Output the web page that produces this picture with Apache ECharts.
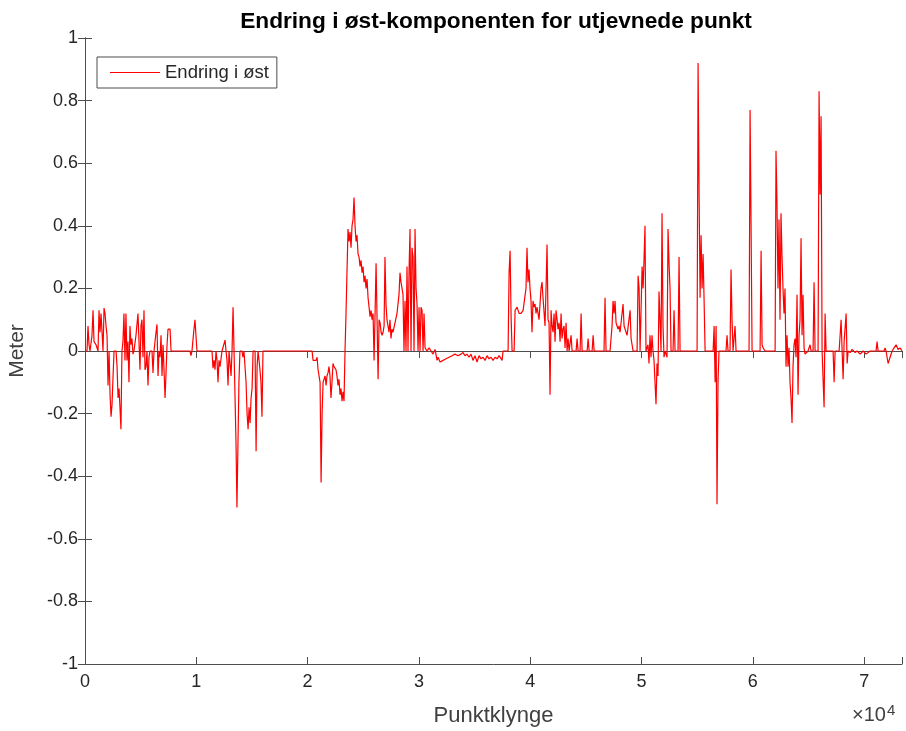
<!DOCTYPE html>
<html><head><meta charset="utf-8">
<script src="https://cdn.jsdelivr.net/npm/echarts@6/dist/echarts.min.js"></script>
<style>html,body{margin:0;padding:0;background:#fff}#c{width:906px;height:731px}</style>
</head><body><div id="c"></div>
<script>
const titleText = 'Endring i øst-komponenten for utjevnede punkt';
const seriesName = 'Endring i øst';
const xName = 'Punktklynge';
const yName = 'Meter';
const xTickValues = [0, 10000, 20000, 30000, 40000, 50000, 60000, 70000];

const punktklynge = [
0,180,270,360,450,630,720,810,990,1170,
1260,1350,1440,1620,1710,1800,1890,1980,2070,2160,
2250,2340,2430,2520,2610,2790,2880,2970,3060,3140,
3230,3320,3410,3500,3590,3680,3770,3860,3950,4040,
4130,4220,4310,4400,4580,4760,4850,4940,5030,5120,
5210,5300,5390,5480,5570,5660,5750,5840,6020,6110,
6200,6380,6470,6560,6650,6740,6830,6920,7010,7100,
7190,7280,7370,7460,7550,7640,7730,9430,9520,9610,
9700,9790,9880,9970,10060,11410,11500,11590,11680,11770,
11860,11950,12040,12130,12310,12580,12670,12760,12850,12940,
13120,13210,13300,13390,13480,13570,13650,13740,13830,13920,
14100,14190,14280,14470,14560,14650,14740,14830,14920,15010,
15100,15280,15370,15460,15550,15720,15810,15900,15990,16620,
16710,16800,20400,20490,20580,20760,20850,20940,21030,21120,
21210,21300,21390,21570,21660,21740,21830,21920,22010,22100,
22190,22280,22370,22550,22640,22730,22820,22910,23000,23090,
23180,23270,23360,23450,23540,23630,23720,23810,23900,23990,
24080,24170,24260,24350,24440,24530,24620,24710,24800,24890,
24980,25070,25160,25250,25340,25430,25520,25610,25700,25790,
25880,25970,26060,26150,26240,26330,26420,26510,26600,26690,
26780,26870,26950,27040,27130,27220,27310,27400,27490,27580,
27670,27850,28030,28210,28300,28390,28480,28570,28660,28750,
28840,28930,29020,29110,29200,29290,29380,29470,29560,29650,
29740,29830,29920,30010,30100,30190,30280,30370,30460,30550,
30730,30910,31090,31270,31450,31630,31720,31900,32170,32440,
32710,32980,33240,33510,33780,33960,34140,34320,34500,34680,
34860,35040,35220,35400,35580,35760,35940,36120,36300,36480,
36660,36840,37020,37200,37470,37560,38010,38100,38190,38280,
38370,38550,38640,38820,39000,39180,39360,39620,39710,39800,
39890,39980,40070,40160,40250,40340,40430,40520,40610,40790,
40970,41060,41150,41330,41420,41510,41600,41690,41780,41870,
41960,42050,42140,42230,42320,42410,42500,42590,42680,42770,
42860,42950,43040,43130,43220,43310,43400,43490,43670,43760,
44120,44210,44300,44480,44570,44660,45110,45200,45290,45560,
45650,45740,46630,46720,46810,47170,47350,47440,47530,47620,
47710,47800,47890,47980,48070,48340,48430,48700,48970,49060,
49240,49600,49690,49780,49870,50050,50140,50230,50310,50400,
50580,50670,50760,50850,50940,51030,51120,51210,51300,51390,
51480,51570,51660,51750,51840,51930,52020,52110,52290,52380,
52470,52560,52650,52830,52920,53010,53280,53370,53460,54990,
55080,55170,55260,55350,55440,55530,55620,55710,56430,56520,
56610,56700,56780,56870,56960,57590,57680,57770,57950,58040,
58130,58220,58310,58400,58490,59660,59750,59840,59930,60650,
60740,60830,60920,61100,62000,62080,62170,62260,62350,62440,
62530,62620,62710,62800,62890,62980,63070,63160,63250,63340,
63430,63520,63610,63700,63790,63880,63970,64060,64150,64240,
64330,64420,64510,64600,64690,64780,64960,65140,65230,65410,
65500,65590,65860,65950,66040,66130,66220,66310,66400,66490,
66580,67210,67300,67390,67750,67840,67930,68020,68110,68200,
68380,68470,68560,68740,68920,69190,69370,69640,69910,70180,
70530,71070,71160,71250,71790,71880,71970,72150,72240,72330,
72510,72690,72870,73050,73230,73400
];

const endringOst = [
0,0,0.08,0.02,0,0.05,0.13,0.03,0.02,0,
0.13,0.06,0.12,0,0.137,0.12,0.08,0.05,-0.11,0,
-0.14,-0.21,-0.17,-0.08,0,0,-0.05,-0.15,-0.12,-0.18,
-0.25,0,0.03,0.12,-0.03,0.12,-0.03,0.03,-0.1,0.08,
0.02,0.04,-0.01,0,0.05,0.12,0.03,-0.06,0.08,0.1,
-0.02,0.13,-0.06,-0.05,0,-0.11,-0.02,0,0,-0.07,
0,0.06,0.085,-0.08,0,-0.02,0.05,-0.08,0.02,-0.06,
-0.15,-0.07,0.02,0.07,0.075,0.07,0,0,-0.015,0,
0,0.07,0.1,0.1,0,0,-0.055,-0.03,-0.06,0,
-0.03,-0.1,-0.03,-0.05,0,0.035,0,-0.03,-0.11,0,
-0.08,0,0.14,0,0,-0.3,-0.5,-0.3,-0.1,0,
0,-0.02,0,-0.1,-0.2,-0.25,-0.18,-0.23,-0.15,-0.12,
0,0,-0.32,-0.05,0,-0.06,-0.1,-0.21,0,0,
-0.005,0,0,-0.03,-0.035,-0.03,-0.02,-0.06,-0.08,-0.1,
-0.42,-0.2,-0.1,-0.08,-0.11,-0.08,-0.07,-0.05,-0.08,-0.15,
-0.1,-0.04,-0.05,-0.06,-0.08,-0.11,-0.09,-0.14,-0.12,-0.16,
-0.13,-0.16,0,0.12,0.12,0.39,0.35,0.38,0.33,0.4,
0.42,0.49,0.4,0.35,0.37,0.31,0.3,0.27,0.29,0.25,
0.27,0.22,0.24,0.2,0.23,0.17,0.14,0.11,0.13,0.1,
0.12,-0.03,0.12,0.28,0.1,-0.09,0.1,0.09,0.06,0.05,
0.06,0.08,0.3,0.15,0.1,0.1,0.06,0.1,0.04,0.07,
0.06,0.09,0.12,0.18,0.25,0.22,0.2,0.18,0,0.16,
0,0.27,0,0.25,0.39,0,0.33,0.3,0,0.39,
0.2,0.15,0,0.14,0,0.14,0.13,0,0.12,0.01,
0,0.01,0,-0.01,0.005,-0.03,-0.02,-0.035,-0.03,-0.025,
-0.02,-0.015,-0.01,-0.015,-0.01,-0.005,-0.015,-0.01,-0.02,-0.01,
-0.03,-0.015,-0.035,-0.015,-0.025,-0.02,-0.03,-0.015,-0.025,-0.02,
-0.03,-0.02,-0.025,-0.015,-0.03,0,0,0.25,0.32,0.11,
0,0,0.13,0.14,0.12,0.12,0.13,0.2,0.33,0.22,
0.26,0.2,0.16,0.06,0.16,0.14,0.15,0.12,0.14,0.1,
0.2,0.22,0.17,0.08,0.2,0.34,0.1,0.09,-0.14,0.13,
0.08,0.06,0.12,0.03,0.13,0.1,0.07,0.09,0.03,0.12,
0.04,0.07,0.08,0.01,0.09,0,0.04,0,0.05,0,
0,0.04,0,0,0.12,0,0,0.04,0,0,
0.05,0,0,0.17,0,0,0.08,0.16,0.12,0.16,
0.09,0.08,0.07,0.08,0.06,0.15,0.08,0.05,0.13,0.04,
0,0,0.24,0.2,0,0.27,0.2,0.3,0.4,0,
0.02,-0.04,0.05,-0.02,0.05,0,-0.03,-0.1,-0.17,-0.04,
-0.08,0.19,0.1,0,0.44,0.08,-0.02,0,-0.02,0.39,
0.28,0.2,0,0,0.13,0,0,0.3,0,0,
0.92,0.5,0.17,0.37,0.2,0.31,0.16,0,0,0.08,
-0.1,0.08,-0.49,-0.1,0,0,0.05,0,0,0.26,
0.1,0,0,0.08,0,0,0.77,0.4,0,0,
0.32,0.02,0.01,0,0,0.64,0.47,0.2,0.42,0.1,
0.44,0.3,0.2,0.12,0.2,-0.05,0.05,-0.05,0.01,-0.1,
-0.15,-0.23,-0.05,0.02,0.04,-0.02,0.18,-0.14,0.05,0.1,
0.36,0.05,0.18,0.01,-0.01,-0.015,0,0.02,0,0,
0.22,0,0,0.83,0.5,0.75,0,0,-0.18,0.12,
0,0,-0.1,0,0,0.05,0.1,0,-0.09,0.03,
0.12,-0.04,0,-0.005,0.005,-0.005,0,-0.01,0,-0.01,
0,0,0.03,0,0,0.01,0,-0.04,-0.04,-0.02,
0,0.01,0.02,0.005,0.01,0
];

const font = 'Liberation Sans, Arial, Helvetica, sans-serif';
const axisColor = '#4d4d4d';
const textColor = '#262626';
const data = punktklynge.map((x, i) => [x, endringOst[i]]);

const chart = echarts.init(document.getElementById('c'), null, {renderer: 'canvas'});
chart.setOption({
  animation: false,
  backgroundColor: '#ffffff',
  title: {
    text: titleText, left: 491, top: 5, textAlign: 'center',
    textStyle: {fontFamily: font, fontSize: 22.7, fontWeight: 'bold', color: '#000'}
  },
  legend: {
    show: true,
    left: 97, top: 57, orient: 'vertical',
    padding: [6, 8, 6, 13],
    borderColor: '#4d4d4d', borderWidth: 1,
    backgroundColor: '#fff',
    icon: 'rect', itemWidth: 50, itemHeight: 1.2, itemGap: 6,
    textStyle: {fontFamily: font, fontSize: 18.5, color: textColor},
    data: [seriesName]
  },
  grid: {left: 85, right: 4, top: 38, bottom: 67, containLabel: false, outerBoundsMode: 'none'},
  xAxis: [{
    type: 'value', min: 0, max: 73400, interval: 10000,
    name: xName, nameLocation: 'middle', nameGap: 41,
    nameTextStyle: {fontFamily: font, fontSize: 22, color: '#404040'},
    axisLine: {show: true, onZero: false, lineStyle: {color: axisColor, width: 1}},
    axisTick: {show: true, inside: true, length: 7, lineStyle: {color: axisColor}},
    axisLabel: {
      fontFamily: font, fontSize: 18, color: textColor, margin: 9,
      formatter: v => (xTickValues.indexOf(v) >= 0 ? String(v / 10000) : '')
    },
    splitLine: {show: false}
  }, {
    type: 'value', position: 'top', min: 0, max: 73400, interval: 10000,
    axisLine: {show: true, lineStyle: {color: axisColor, width: 1}},
    axisTick: {show: true, inside: true, length: 7, lineStyle: {color: axisColor}},
    axisLabel: {show: false}, splitLine: {show: false}
  }],
  yAxis: [{
    type: 'value', min: -1, max: 1, interval: 0.2,
    name: yName, nameLocation: 'middle', nameGap: 57, nameRotate: 90,
    nameTextStyle: {fontFamily: font, fontSize: 21, color: '#404040'},
    axisLine: {show: true, onZero: false, lineStyle: {color: axisColor, width: 1}},
    axisTick: {show: true, inside: true, length: 7, lineStyle: {color: axisColor}},
    axisLabel: {
      fontFamily: font, fontSize: 18, color: textColor, margin: 7,
      formatter: v => String(Math.round(v * 10) / 10)
    },
    splitLine: {show: false}
  }, {
    type: 'value', position: 'right', min: -1, max: 1, interval: 0.2,
    axisLine: {show: true, lineStyle: {color: axisColor, width: 1}},
    axisTick: {show: true, inside: true, length: 7, lineStyle: {color: axisColor}},
    axisLabel: {show: false}, splitLine: {show: false}
  }],
  graphic: [{
    type: 'text', left: 852, top: 703,
    style: {
      text: '×10{s|4}', fontFamily: font, fontSize: 20, fill: '#404040',
      rich: {s: {fontFamily: font, fontSize: 15, verticalAlign: 'top', padding: [0, 0, 10, 1], fill: '#404040'}}
    }
  }],
  series: [{
    name: seriesName, type: 'line', xAxisIndex: 0, yAxisIndex: 0,
    data: data, showSymbol: false, symbol: 'none',
    lineStyle: {color: '#ff0000', width: 1.2},
    itemStyle: {color: '#ff0000'}
  }]
});
</script></body></html>
